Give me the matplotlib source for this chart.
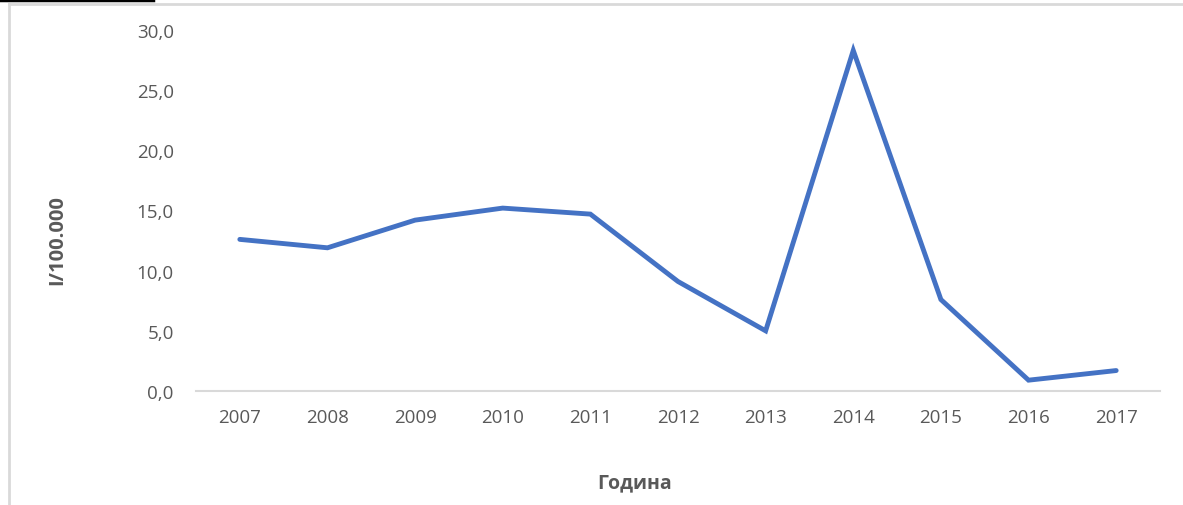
import matplotlib
matplotlib.use("Agg")
import matplotlib.pyplot as plt
from matplotlib.lines import Line2D

years = [2007, 2008, 2009, 2010, 2011, 2012, 2013, 2014, 2015, 2016, 2017]
rate = [12.6, 11.9, 14.2, 15.2, 14.7, 9.1, 5.0, 28.3, 7.6, 0.9, 1.7]
yticks = [0, 5, 10, 15, 20, 25, 30]

W, H = 1183, 506
plt.rcParams['font.family'] = ['Open Sans', 'DejaVu Sans']
fig = plt.figure(figsize=(W/100, H/100), dpi=100)
ax = fig.add_axes([196/W, 1-392/H, (1160-196)/W, (392-31)/H])

ax.plot(years, rate, color='#4472C4', lw=3.5, solid_capstyle='round', solid_joinstyle='miter')
ax.set_xlim(2006.5, 2017.5)
ax.set_ylim(0, 30)
ax.set_xticks(years)
ax.set_xticklabels([str(y) for y in years])
ax.set_yticks(yticks)
ax.set_yticklabels([f"{v:.1f}".replace('.', ',') for v in yticks])
ax.tick_params(length=0, labelsize=13.5, labelcolor='#595959')
ax.tick_params(axis='x', pad=12)
ax.tick_params(axis='y', pad=16)
for s in ['top', 'right', 'left']:
    ax.spines[s].set_visible(False)
ax.spines['bottom'].set_color('#d9d9d9')
ax.spines['bottom'].set_linewidth(1.5)

fig.text(57/W, 1-240/H, "I/100.000", rotation=90, ha='center', va='center',
         fontsize=14.5, fontweight='bold', color='#595959')
fig.text(635/W, 1-483/H, "Година", ha='center', va='center',
         fontsize=14, fontweight='bold', color='#595959')

# outer frame and the black stub at the top left
fig.add_artist(Line2D([9/W, 9/W], [0, 1-5/H], color='#d9d9d9', lw=2))
fig.add_artist(Line2D([9/W, 1182/W], [1-5/H, 1-5/H], color='#d9d9d9', lw=2))
fig.add_artist(Line2D([0, 153/W], [1-1/H, 1-1/H], color='black', lw=2.5))

fig.savefig("out.png", dpi=100)
